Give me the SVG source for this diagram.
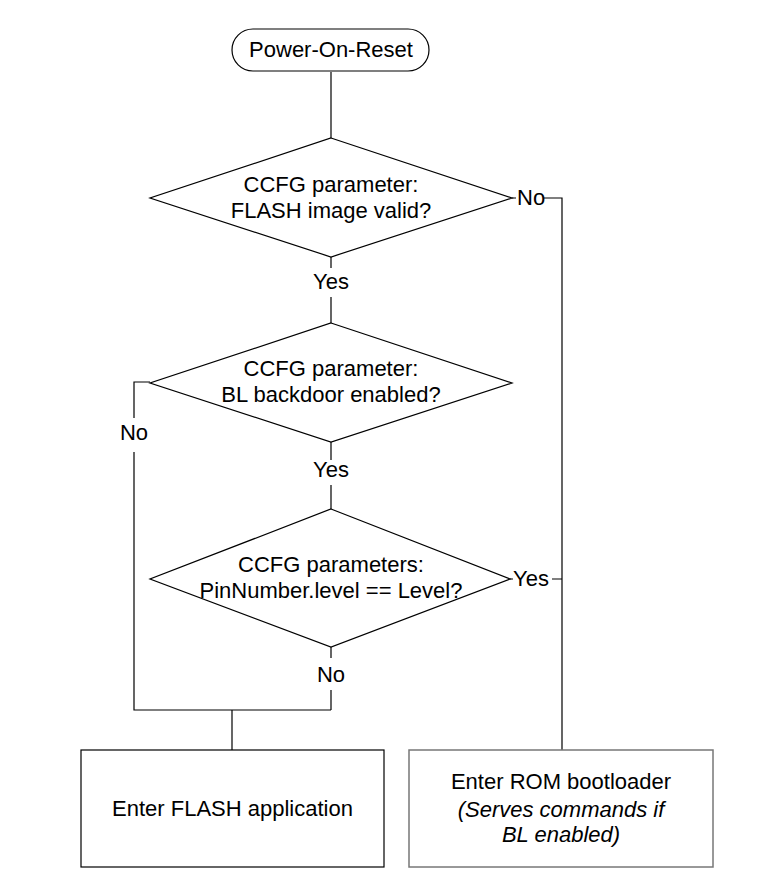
<svg xmlns="http://www.w3.org/2000/svg" width="772" height="888" viewBox="0 0 772 888">
<style>
.s{fill:#fff;stroke:#000;stroke-width:1.2}
.g{fill:#fff;stroke:#777;stroke-width:1.5}
.c{fill:none;stroke:#000;stroke-width:1.2}
text{font-family:"Liberation Sans",Arial,sans-serif;font-size:22px;fill:#000}
.m{text-anchor:middle}
.i{font-style:italic}
</style>
<rect width="772" height="888" fill="#fff"/>
<g id="connectors">
<path class="c" d="M331,72V138"/>
<path class="c" d="M331,257V268M331,297V323"/>
<path class="c" d="M331,442V460M331,485V509"/>
<path class="c" d="M331,647V658M331,690V710"/>
<path class="c" d="M150,382H134V418M134,452V710H331"/>
<path class="c" d="M232,710V750"/>
<path class="c" d="M512,198H516M544,198H562V750"/>
<path class="c" d="M510,579H513M552,579H562"/>
<text x="331" y="289" class="m">Yes</text>
<text x="331" y="477" class="m">Yes</text>
<text x="134" y="440" class="m">No</text>
<text x="331" y="682" class="m">No</text>
<text x="517" y="205">No</text>
<text x="513" y="586">Yes</text>
</g>
<g id="start">
<rect class="s" x="232" y="29" width="197" height="42" rx="21"/>
<text x="331" y="57" class="m">Power-On-Reset</text>
</g>
<g id="d1">
<polygon class="s" points="331,138 512,198 331,257 150,198"/>
<text x="331" y="192" class="m">CCFG parameter:</text>
<text x="331" y="218" class="m">FLASH image valid?</text>
</g>
<g id="d2">
<polygon class="s" points="331,323 512,383 331,442 150,383"/>
<text x="331" y="376" class="m">CCFG parameter:</text>
<text x="331" y="402" class="m">BL backdoor enabled?</text>
</g>
<g id="d3">
<polygon class="s" points="331,509 510,579 331,647 150,579"/>
<text x="331" y="572" class="m">CCFG parameters:</text>
<text x="331" y="598" class="m">PinNumber.level == Level?</text>
</g>
<g id="flash">
<rect class="s" x="81" y="750" width="303" height="117"/>
<text x="232.5" y="816" class="m">Enter FLASH application</text>
</g>
<g id="rom">
<rect class="g" x="409" y="750" width="304" height="117"/>
<text x="561" y="789" class="m">Enter ROM bootloader</text>
<text x="561" y="817" class="m i">(Serves commands if</text>
<text x="561" y="842" class="m i">BL enabled)</text>
</g>
</svg>
